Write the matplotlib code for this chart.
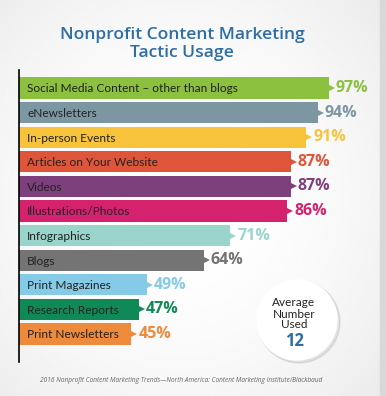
import numpy as np
import matplotlib
matplotlib.use('agg')
import matplotlib.pyplot as plt
from matplotlib.patches import Circle

tactics = ['Social Media Content \u2013 other than blogs', 'eNewsletters',
           'In-person Events', 'Articles on Your Website', 'Videos',
           'Illustrations/Photos', 'Infographics', 'Blogs',
           'Print Magazines', 'Research Reports', 'Print Newsletters']
usage = [97, 94, 91, 87, 87, 86, 71, 64, 49, 47, 45]
colors = ['#8cc03f', '#7c96a2', '#f6c33a', '#df553a', '#7e3f7d', '#d5226f',
          '#9ad5cc', '#747474', '#85cbe7', '#0f8a56', '#ee8a3b']
avg_used = 12

W, H = 386, 396
fig = plt.figure(figsize=(W / 100, H / 100), dpi=100)

# soft background
bg = fig.add_axes([0, 0, 1, 1])
yy, xx = np.mgrid[0:1:200j, 0:1:200j]
r = np.sqrt(((xx - 0.47) / 0.75) ** 2 + ((yy - 0.5) / 0.8) ** 2)
grad = np.clip(1 - 0.09 * r ** 2, 0, 1)
bg.imshow(grad, cmap='gray', vmin=0, vmax=1, extent=[0, 1, 0, 1],
          aspect='auto', interpolation='bilinear')
bg.axvspan(0.985, 1.0, color='#d8d8d8')
bg.set_xlim(0, 1)
bg.set_ylim(0, 1)
bg.axis('off')

# bars
ax = fig.add_axes([19 / W, 1 - 362 / H, 1 - 19 / W, 292 / H])
ax.patch.set_alpha(0)
y = np.arange(len(tactics))
ax.barh(y, usage, height=0.86, color=colors)
for yi, v, c in zip(y, usage, colors):
    ax.plot([v], [yi], marker='>', markersize=9, color=c, markeredgewidth=0,
            clip_on=False)
ax.set_xlim(15.4, 112.0)
ax.set_ylim(11.14, -0.73)
for yi, name, v, c in zip(y, tactics, usage, colors):
    ax.text(17.6, yi + 0.04, name, va='center', ha='left', fontsize=8.6,
            family='Lato', color='#222222')
    ax.annotate(f'{v}%', (v, yi), xytext=(5, 0), textcoords='offset points',
                va='center', ha='left', fontsize=11.5, fontweight='bold',
                family='Open Sans', color=c)
for s in ['top', 'right', 'bottom']:
    ax.spines[s].set_visible(False)
ax.spines['left'].set_linewidth(1.2)
ax.set_xticks([])
ax.set_yticks([])

# title
fig.text(182 / W, 1 - 44 / H, 'Nonprofit Content Marketing\nTactic Usage',
         ha='center', va='center', fontsize=12.6, fontweight='semibold',
         family='Open Sans', color='#2f6ea5', linespacing=1.1)

# average circle
ov = fig.add_axes([0, 0, 1, 1])
ov.set_xlim(0, W)
ov.set_ylim(H, 0)
ov.axis('off')
ov.add_patch(Circle((299, 322), 41, color='#000000', alpha=0.08))
ov.add_patch(Circle((297, 320), 40, color='white'))
ov.text(294, 314, 'Average\nNumber\nUsed', ha='center', va='center',
        fontsize=8.5, family='Lato', color='#222222', linespacing=1.0)
ov.text(294, 341, str(avg_used), ha='center', va='center', fontsize=12,
        fontweight='bold', family='Open Sans', color='#2f6ea5')

fig.text(181 / W, 1 - 380 / H,
         '2016 Nonprofit Content Marketing Trends\u2014North America: '
         'Content Marketing Institute/Blackbaud',
         ha='center', va='center', fontsize=4.7, style='italic',
         family='Open Sans', color='#666666')

fig.savefig('out.png', dpi=100)
